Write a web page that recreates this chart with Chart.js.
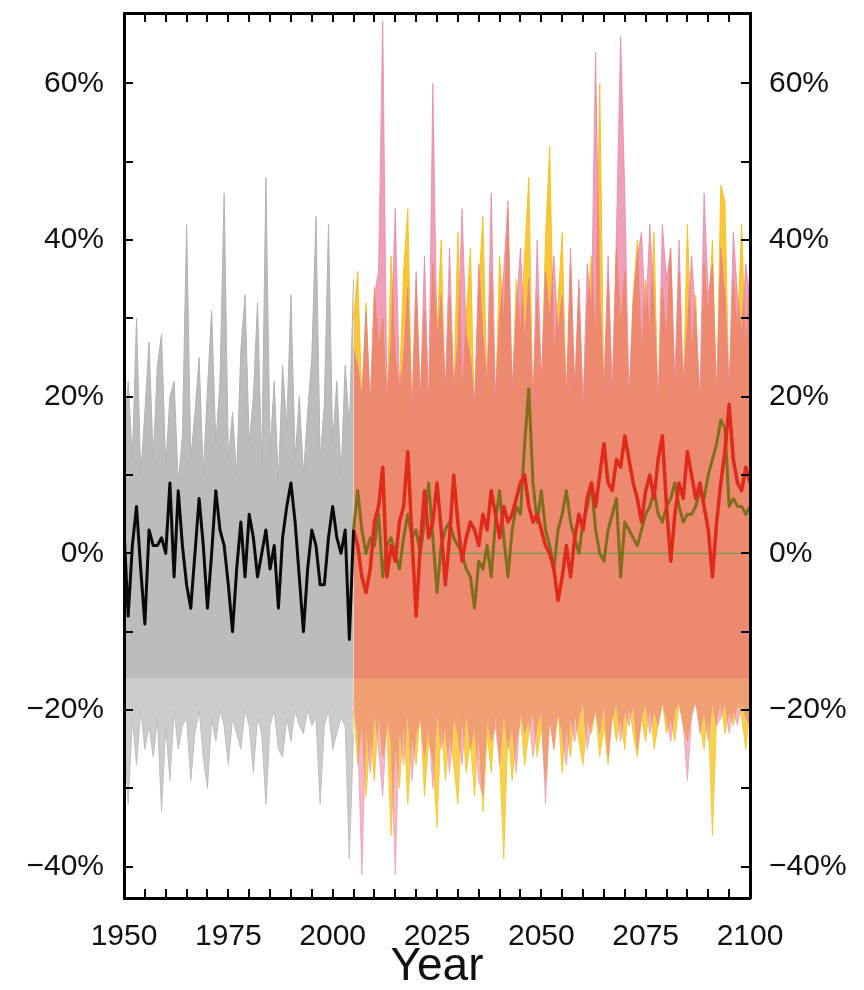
<!DOCTYPE html>
<html>
<head>
<meta charset="utf-8">
<script src="https://cdn.jsdelivr.net/npm/chart.js@4/dist/chart.umd.min.js"></script>
<style>
  html, body { margin: 0; padding: 0; background: #fff; }
  #wrap { width: 864px; height: 990px; position: relative; }
</style>
</head>
<body>
<div id="wrap"><canvas id="myChart"></canvas></div>
<script>
(function () {
    'use strict';

    function range(a, b) {
        var out = [];
        for (var y = a; y <= b; y++) out.push(y);
        return out;
    }

    // years
    var histYears = range(1950, 2005);
    var futureYears = range(2005, 2100);

    // historical run, % change (1950-2005)
    var histMean = [3, -8, 1, 6, -2, -9, 3, 1, 1, 2, 0, 9, -3, 8, 1, -4, -7, 0, 7, 1,
        -7, 0, 8, 3, 1, -4, -10, -2, 4, -3, 5, 2, -3, 0, 3, -2, 1, -7, 2, 6,
        9, 4, -3, -10, -2, 3, 1, -4, -4, 2, 6, 2, 0, 3, -11, 3];
    var histUpper = [14, 22, 12, 30, 10, 18, 27, 12, 24, 28, 11, 20, 22, 9, 15, 42, 12, 18, 25, 10,
        21, 31, 14, 22, 46, 12, 18, 10, 26, 33, 14, 20, 32, 11, 48, 13, 22, 9, 24, 16,
        33, 12, 20, 10, 18, 25, 43, 12, 19, 42, 14, 22, 10, 24, 16, 35];
    var histLower = [-23, -32, -21, -27, -20, -25, -22, -26, -21, -33, -22, -29, -20, -25, -22, -21, -29, -23, -20, -26,
        -30, -21, -24, -20, -22, -27, -21, -23, -25, -20, -22, -28, -21, -23, -32, -22, -20, -25, -26, -21,
        -24, -20, -22, -23, -20, -22, -21, -32, -22, -20, -25, -23, -21, -22, -39, -23];

    // scenario runs, % change (2005-2100)
    var redMean = [3, 1, -3, -5, -2, 4, 6, 11, -3, 1, -1, 4, 6, 13, 2, -8, 1, 8, 2, 4,
        9, 3, -4, 2, 10, 4, -1, 2, 4, 3, 1, 5, 3, 8, 5, 2, 6, 4, 5, 7,
        9, 10, 6, 4, 5, 3, 1, 0, -2, -6, -3, 1, -3, 2, 5, 3, 7, 9, 6, 10,
        14, 9, 8, 12, 11, 15, 12, 9, 7, 4, 8, 10, 7, 12, 15, 6, -1, 5, 9, 7,
        13, 10, 7, 9, 6, 3, -3, 4, 9, 13, 19, 12, 9, 8, 11, 9];
    var oliveMean = [3, 8, 3, 0, 2, 1, 5, -3, 1, 2, 0, -2, 2, 5, 2, 3, 0, 4, 9, 2,
        -5, 1, 3, 4, 2, 1, 0, -2, -3, -7, -1, -2, 1, -3, 4, 8, 2, -3, 3, 6,
        5, 14, 21, 9, 4, 8, 3, 1, -2, 3, 5, 8, 4, 2, 0, 4, 6, 9, 3, 0,
        -1, 3, 5, 7, -3, 4, 3, 2, 1, 3, 5, 6, 8, 5, 4, 6, 7, 9, 6, 4,
        5, 5, 6, 8, 7, 10, 12, 14, 17, 16, 6, 7, 6, 6, 5, 6];
    var yellowUpper = [30, 36, 19, 32, 18, 34, 26, 30, 18, 38, 25, 21, 36, 44, 17, 35, 20, 31, 18, 37,
        28, 40, 19, 33, 20, 41, 20, 30, 39, 17, 34, 43, 20, 36, 18, 38, 29, 44, 19, 35,
        28, 38, 48, 18, 33, 20, 40, 52, 25, 32, 41, 19, 37, 20, 34, 17, 31, 38, 26, 60,
        19, 35, 18, 39, 29, 36, 19, 33, 40, 25, 35, 28, 41, 18, 34, 27, 39, 19, 36, 20,
        42, 25, 33, 17, 37, 30, 40, 19, 47, 45, 19, 35, 28, 42, 25, 38];
    var yellowLower = [-20, -27, -21, -31, -23, -29, -20, -26, -22, -36, -24, -30, -21, -32, -23, -27, -20, -31, -24, -26,
        -35, -21, -29, -23, -27, -32, -20, -28, -24, -31, -22, -33, -23, -28, -20, -26, -39, -22, -29, -24,
        -21, -27, -23, -20, -26, -22, -29, -21, -25, -20, -28, -22, -26, -20, -24, -27, -21, -23, -20, -26,
        -22, -27, -20, -24, -21, -25, -19, -23, -26, -21, -24, -19, -25, -22, -19, -23, -21, -24, -19, -22,
        -24, -20, -19, -22, -25, -20, -36, -21, -19, -23, -20, -22, -19, -21, -25, -20];
    var pinkUpper = [26, 24, 20, 31, 19, 33, 36, 68, 20, 27, 44, 21, 25, 34, 18, 36, 19, 38, 19, 60,
        27, 33, 21, 39, 21, 27, 44, 28, 25, 19, 37, 28, 22, 46, 20, 30, 36, 45, 21, 31,
        39, 27, 35, 19, 40, 22, 36, 30, 38, 28, 33, 20, 39, 21, 35, 19, 37, 31, 64, 33,
        21, 38, 21, 41, 66, 46, 20, 32, 38, 41, 30, 42, 32, 19, 42, 35, 39, 22, 40, 22,
        29, 38, 30, 20, 46, 33, 37, 20, 39, 33, 21, 41, 33, 28, 37, 32];
    var pinkLower = [-19, -23, -41, -22, -28, -20, -25, -31, -21, -24, -41, -22, -27, -20, -29, -23, -21, -26, -22, -30,
        -20, -25, -22, -28, -21, -23, -27, -20, -25, -22, -29, -31, -21, -24, -22, -27, -20, -25, -22, -28,
        -20, -23, -21, -26, -22, -20, -32, -21, -25, -20, -23, -27, -21, -24, -21, -19, -25, -22, -20, -23,
        -19, -26, -21, -19, -24, -20, -22, -19, -25, -21, -19, -23, -20, -22, -19, -21, -24, -20, -19, -22,
        -29, -21, -19, -23, -20, -24, -19, -22, -21, -19, -23, -20, -22, -19, -21, -22];

    var zeroSpan = [2005, 2100];
    var spreadBase = -16;

    var yTicks = [-40, -30, -20, -10, 0, 10, 20, 30, 40, 50, 60];
    var yTickLabels = { '-40': '\u221240%', '-20': '\u221220%', '0': '0%', '20': '20%', '40': '40%', '60': '60%' };
    var xTickLabels = [1950, 1975, 2000, 2025, 2050, 2075, 2100];

    function pts(yrs, vals) {
        return vals.map(function (v, i) { return { x: yrs[i], y: v }; });
    }

    var font = 'Liberation Sans, Arial, Helvetica, sans-serif';

    function band(label, yrs, vals, fillColor, lineColor) {
        return {
            label: label,
            data: pts(yrs, vals),
            borderColor: lineColor,
            borderWidth: 1,
            backgroundColor: fillColor,
            fill: { value: spreadBase },
            pointRadius: 0,
            tension: 0
        };
    }

    function line(label, yrs, vals, color, width) {
        return {
            label: label,
            data: pts(yrs, vals),
            borderColor: color,
            borderWidth: width,
            fill: false,
            pointRadius: 0,
            tension: 0,
            borderJoinStyle: 'round'
        };
    }

    var datasets = [
        line('historical mean', histYears, histMean, '#0a0a0a', 3),
        line('scenario B mean', futureYears, redMean, 'rgb(224,42,28)', 3.5),
        line('scenario A mean', futureYears, oliveMean, 'rgb(128,110,28)', 3),
        line('zero', zeroSpan, [0, 0], 'rgb(110,160,70)', 1.2),
        band('scenario B max', futureYears, pinkUpper, 'rgba(230,100,145,0.62)', 'rgba(234,125,155,0.7)'),
        band('scenario B min', futureYears, pinkLower, 'rgba(232,112,145,0.5)', 'rgba(236,140,165,0.6)'),
        band('scenario A max', futureYears, yellowUpper, 'rgba(247,188,20,0.85)', 'rgba(247,192,25,0.9)'),
        band('scenario A min', futureYears, yellowLower, 'rgba(247,194,30,0.78)', 'rgba(247,198,36,0.85)'),
        band('historical max', histYears, histUpper, 'rgb(188,188,188)', 'rgb(178,178,178)'),
        band('historical min', histYears, histLower, 'rgb(204,204,204)', 'rgb(190,190,190)')
    ];

    // inward tick marks on every side
    function frameGrid() {
        return { drawOnChartArea: false, drawTicks: true, tickLength: -9, lineWidth: 2, color: '#000', z: 1 };
    }
    function frameBorder() {
        return { display: true, color: '#000', width: 3, z: 1 };
    }
    function yLabel(v) {
        var k = String(Math.round(v));
        return yTickLabels.hasOwnProperty(k) ? yTickLabels[k] : '';
    }
    function xLabel(v) {
        return xTickLabels.indexOf(Math.round(v)) >= 0 ? String(v) : '';
    }
    function setYTicks(s) {
        s.ticks = yTicks.map(function (v) { return { value: v }; });
    }
    function noPad(s) { s.paddingTop = 0; s.paddingBottom = 0; }

    var ctx = document.getElementById('myChart');
    new Chart(ctx, {
        type: 'line',
        data: { datasets: datasets },
        options: {
            responsive: true,
            maintainAspectRatio: false,
            animation: false,
            layout: { padding: 0 },
            plugins: { legend: { display: false }, tooltip: { enabled: false } },
            scales: {
                x: {
                    type: 'linear', position: 'bottom', min: 1950, max: 2100,
                    grid: frameGrid(), border: frameBorder(),
                    ticks: { stepSize: 5, autoSkip: false, maxRotation: 0, minRotation: 0, padding: 30,
                        color: '#111', font: { family: font, size: 30 }, callback: xLabel },
                    title: { display: true, text: 'Year', color: '#111', padding: 0,
                        font: { family: font, size: 46, lineHeight: 1 } },
                    afterFit: function (s) { s.height = 92; }
                },
                xTop: {
                    type: 'linear', position: 'top', min: 1950, max: 2100,
                    grid: frameGrid(), border: frameBorder(),
                    ticks: { stepSize: 5, autoSkip: false, maxRotation: 0, display: false },
                    afterFit: function (s) { s.height = 13; }
                },
                y: {
                    type: 'linear', position: 'left', min: -44, max: 69,
                    grid: frameGrid(), border: frameBorder(),
                    afterBuildTicks: setYTicks,
                    ticks: { autoSkip: false, padding: 29,
                        color: '#111', font: { family: font, size: 30 }, callback: yLabel },
                    afterFit: function (s) { s.width = 124; noPad(s); }
                },
                yRight: {
                    type: 'linear', position: 'right', min: -44, max: 69,
                    grid: frameGrid(), border: frameBorder(),
                    afterBuildTicks: setYTicks,
                    ticks: { autoSkip: false, padding: 28,
                        color: '#111', font: { family: font, size: 30 }, callback: yLabel },
                    afterFit: function (s) { s.width = 114; noPad(s); }
                }
            }
        }
    });
})();
</script>
</body>
</html>
